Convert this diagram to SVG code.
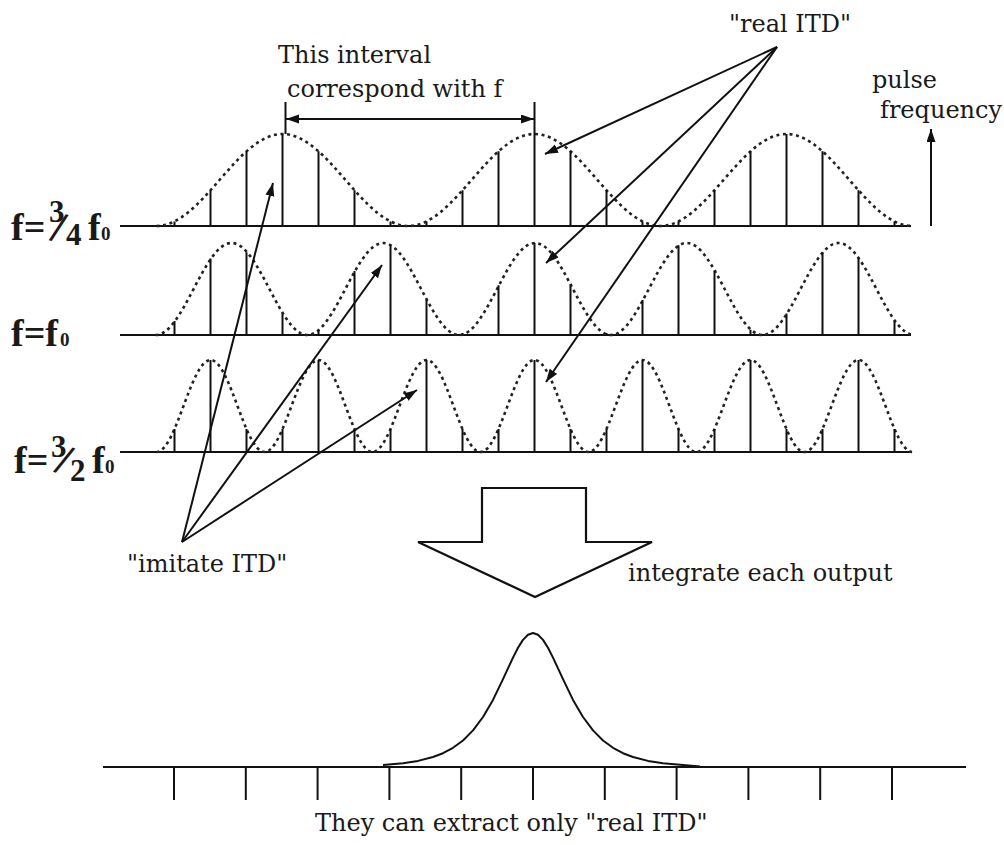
<svg xmlns="http://www.w3.org/2000/svg" width="1004" height="845" viewBox="0 0 1004 845">
  <defs>
    <marker id="head" markerUnits="userSpaceOnUse" markerWidth="14" markerHeight="10" refX="13" refY="4.5" orient="auto-start-reverse">
      <path d="M0,0 L13,4.5 L0,9 z" fill="#111"/>
    </marker>
    <style>
      .base { stroke: #111; stroke-width: 2.2; fill: none; }
      .stick { stroke: #111; stroke-width: 2; fill: none; }
      .dots { stroke: #222; stroke-width: 2.6; stroke-dasharray: 3 3.6; fill: none; }
      .conn { stroke: #111; stroke-width: 2; fill: none; marker-end: url(#head); }
      .plain { stroke: #111; stroke-width: 2; fill: none; }
      .lbl { font-family: "DejaVu Serif", "Liberation Serif", serif; font-size: 24px; fill: #1a1a1a; }
      .flab { font-family: "Liberation Serif", "DejaVu Serif", serif; font-weight: bold; fill: #1a1a1a; }
    </style>
  </defs>
  <rect width="1004" height="845" fill="#fff"/>

  <!-- pulse train at f = 3/4 f0 -->
  <g id="row-34">
    <path class="base" d="M120,226 H911"/>
    <path class="dots" d="M156.5,226 C202.3,226 236.7,134 282.5,134 S362.7,226 408.5,226 S488.7,134 534.5,134 S614.7,226 660.5,226 S740.7,134 786.5,134 S866.7,226 912.5,226"/>
    <path class="stick" d="M174.5,226V221.5 M210.5,226V190.2 M246.5,226V151.3 M282.5,226V134 M318.5,226V151.3 M354.5,226V190.2 M390.5,226V221.5 M426.5,226V221.5 M462.5,226V190.2 M498.5,226V151.3 M534.5,226V134 M570.5,226V151.3 M606.5,226V190.2 M642.5,226V221.5 M678.5,226V221.5 M714.5,226V190.2 M750.5,226V151.3 M786.5,226V134 M822.5,226V151.3 M858.5,226V190.2 M894.5,226V221.5"/>
    <text class="flab" x="11" y="240" font-size="38">f=</text>
    <text class="flab" x="49" y="222" font-size="31">3</text>
    <text class="flab" x="52.5" y="242" font-size="44" transform="rotate(14 58.5 227.5)">/</text>
    <text class="flab" x="66" y="245" font-size="31">4</text>
    <text class="flab" x="88" y="240" font-size="38">f</text>
    <text class="flab" x="101" y="240" font-size="19">0</text>
  </g>

  <!-- pulse train at f = f0 -->
  <g id="row-1">
    <path class="base" d="M120,335 H911"/>
    <path class="dots" d="M155.6,335 C183.2,335 203.9,243 231.5,243 S279.8,335 307.4,335 S355.7,243 383.25,243 S431.5,335 459.1,335 S507.4,243 535,243 S583.3,335 610.9,335 S659.2,243 686.75,243 S735,335 762.6,335 S810.9,243 838.5,243 S886.8,335 914.4,335"/>
    <path class="stick" d="M174.5,335V321 M210.5,335V258.6 M246.5,335V252.2 M282.5,335V313.5 M318.5,335V329.8 M354.5,335V271 M390.5,335V245.3 M426.5,335V300 M462.5,335V333 M498.5,335V285.3 M534.5,335V243 M570.5,335V285.3 M606.5,335V333 M642.5,335V300 M678.5,335V245.3 M714.5,335V271 M750.5,335V329.8 M786.5,335V313.5 M822.5,335V252.2 M858.5,335V258.6 M894.5,335V321"/>
    <text class="flab" x="11" y="346" font-size="38">f=f</text>
    <text class="flab" x="60" y="346" font-size="19">0</text>
  </g>

  <!-- pulse train at f = 3/2 f0 -->
  <g id="row-32">
    <path class="base" d="M120,452 H911"/>
    <path class="dots" d="M156.5,452 C176.1,452 190.9,360 210.5,360 S244.9,452 264.5,452 S298.9,360 318.5,360 S352.9,452 372.5,452 S406.9,360 426.5,360 S460.9,452 480.5,452 S514.9,360 534.5,360 S568.9,452 588.5,452 S622.9,360 642.5,360 S676.9,452 696.5,452 S730.9,360 750.5,360 S784.9,452 804.5,452 S838.9,360 858.5,360 S892.9,452 912.5,452"/>
    <path class="stick" d="M174.5,452V429 M210.5,452V360 M246.5,452V429 M282.5,452V429 M318.5,452V360 M354.5,452V429 M390.5,452V429 M426.5,452V360 M462.5,452V429 M498.5,452V429 M534.5,452V360 M570.5,452V429 M606.5,452V429 M642.5,452V360 M678.5,452V429 M714.5,452V429 M750.5,452V360 M786.5,452V429 M822.5,452V429 M858.5,452V360 M894.5,452V429"/>
    <text class="flab" x="14" y="473" font-size="38">f=</text>
    <text class="flab" x="51" y="457" font-size="31">3</text>
    <text class="flab" x="58" y="474.5" font-size="44" transform="rotate(20 64 460)">/</text>
    <text class="flab" x="70" y="481" font-size="31">2</text>
    <text class="flab" x="92" y="473" font-size="38">f</text>
    <text class="flab" x="105" y="473" font-size="19">0</text>
  </g>

  <!-- interval annotation -->
  <g id="interval">
    <path class="plain" d="M285.5,102 V134 M534.5,102 V134"/>
    <text class="lbl" x="278" y="63">This interval</text>
    <text class="lbl" x="287" y="97">correspond with f</text>
  </g>

  <g id="real-itd">
    <text class="lbl" x="729" y="32">"real ITD"</text>
  </g>

  <g id="pulse-frequency">
    <text class="lbl" x="872" y="88">pulse</text>
    <text class="lbl" x="880" y="118">frequency</text>
  </g>

  <g id="imitate-itd">
    <text class="lbl" x="127" y="572">"imitate ITD"</text>
  </g>

  <!-- block arrow: integrate -->
  <g id="integrate">
    <path d="M482,488 H586 V542 H652 L535,597 L418,542 H482 Z" fill="#fff" stroke="#111" stroke-width="2.2" stroke-linejoin="miter"/>
    <text class="lbl" x="628" y="581">integrate each output</text>
  </g>

  <!-- integrated result -->
  <g id="result">
    <path class="base" d="M103,767 H966"/>
    <path class="stick" d="M174,767V800 M245.8,767V800 M317.6,767V800 M389.4,767V800 M461.2,767V800 M533,767V800 M604.8,767V800 M676.6,767V800 M748.4,767V800 M820.2,767V800 M892,767V800"/>
    <polyline class="plain" stroke-linejoin="round" points="383,765.1 403,763.3 418,760.9 433,757 443,753.2 453,747.8 463,740.5 473,730.4 483,717 493,699.9 503,679.1 508,668.3 513,657.6 518,647.8 523,639.9 528,634.8 533,633 538,634.8 543,639.9 548,647.8 553,657.6 558,668.3 563,679.1 573,699.9 583,717 593,730.4 603,740.5 613,747.8 623,753.2 633,757 648,760.9 663,763.3 683,765.1 700,766.5"/>
    <text class="lbl" x="315" y="831">They can extract only "real ITD"</text>
  </g>

  <g id="connectors">
    <line class="conn" x1="777" y1="47" x2="545" y2="154"/>
    <line class="conn" x1="777" y1="47" x2="546" y2="263"/>
    <line class="conn" x1="777" y1="47" x2="546" y2="382"/>
    <line class="conn" x1="182" y1="542" x2="273" y2="183"/>
    <line class="conn" x1="182" y1="542" x2="382" y2="265"/>
    <line class="conn" x1="182" y1="542" x2="417" y2="390"/>
    <line class="conn" x1="931" y1="226" x2="931" y2="129"/>
    <line class="conn" x1="286" y1="119" x2="534" y2="119" marker-start="url(#head)"/>
  </g>
</svg>
